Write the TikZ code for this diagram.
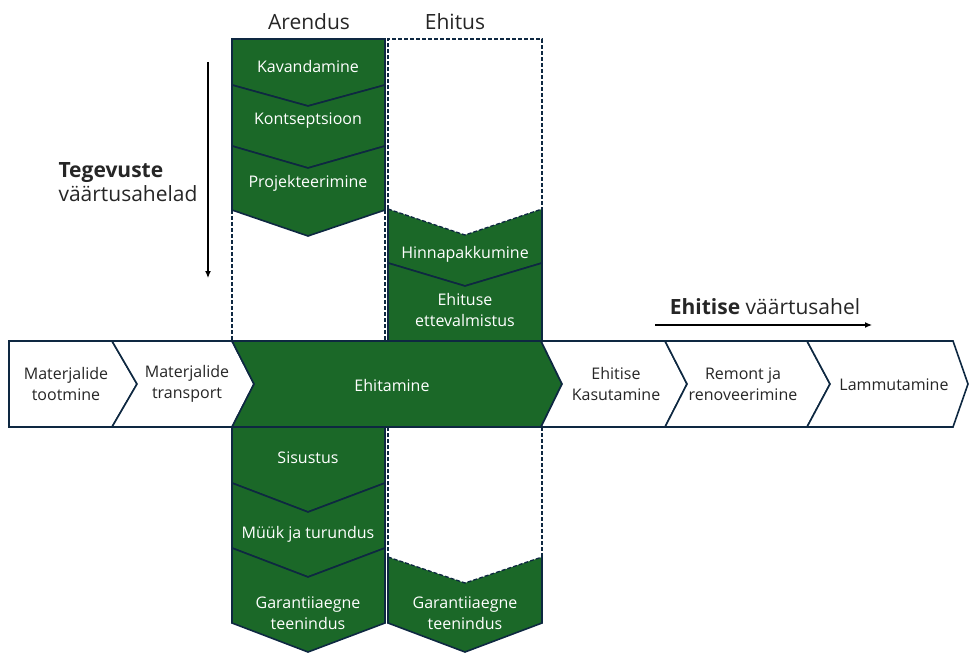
\documentclass[tikz,border=0pt]{standalone}
\usepackage{fontspec}
\setmainfont{Open Sans}
\usetikzlibrary{arrows.meta}
\definecolor{leaf}{RGB}{27,104,40}
\definecolor{navy}{RGB}{14,40,65}
\definecolor{ink}{RGB}{38,38,38}
\tikzset{
  box/.style = {draw = navy, line width = 1.6pt, line join = miter, fill = white},
  gbox/.style = {box, fill = leaf},
  edge/.style = {draw = navy, line width = 1.6pt, line join = miter},
  colframe/.style = {draw = navy, line width = 1.3pt, dash pattern = on 4pt off 2pt},
  wtext/.style = {text = white, align = center, font = \fontsize{16}{20.5}\selectfont},
  btext/.style = {text = ink, align = center, font = \fontsize{16}{20.5}\selectfont},
  big/.style = {text = ink, font = \fontsize{21}{24.5}\selectfont},
  flow/.style = {-{Latex[length = 7pt, width = 6pt]}, line width = 1.2pt, black}
}
\begin{document}
\begin{tikzpicture}[x = 1pt, y = -1pt]
	\useasboundingbox (0,0) rectangle (969,655);
	\clip (0,0) rectangle (969,655);
	\draw [colframe] (388,209) -- (388,39) -- (542,39) -- (542,209);
	\draw [colframe] (232,210) -- (232,341);
	\draw [colframe] (385,210) -- (385,341);
	\draw [colframe] (388,427) -- (388,557);
	\draw [colframe] (542,427) -- (542,557);
	\draw [gbox] (232,39) -- (385,39) -- (385,85) -- (308,106) -- (232,85) -- cycle;
	\draw [gbox] (232,85) -- (308,106) -- (385,85) -- (385,146) -- (308,168) -- (232,146) -- cycle;
	\draw [gbox] (232,146) -- (308,168) -- (385,146) -- (385,210) -- (308,236) -- (232,210) -- cycle;
	\fill [leaf] (388,209) -- (465,235) -- (542,209) -- (542,263) -- (465,286) -- (388,263) -- cycle;
	\draw [edge] (542,209) -- (542,263) -- (465,286) -- (388,263) -- (388,209);
	\draw [colframe] (388,209) -- (465,235) -- (542,209);
	\draw [gbox] (388,263) -- (465,286) -- (542,263) -- (542,341) -- (388,341) -- cycle;
	\draw [gbox] (232,427) -- (385,427) -- (385,483) -- (308,512) -- (232,483) -- cycle;
	\draw [gbox] (232,483) -- (308,512) -- (385,483) -- (385,548) -- (308,577) -- (232,548) -- cycle;
	\draw [gbox] (232,548) -- (308,577) -- (385,548) -- (385,623) -- (308,652) -- (232,623) -- cycle;
	\fill [leaf] (388,557) -- (465,583) -- (542,557) -- (542,623) -- (465,652) -- (388,623) -- cycle;
	\draw [edge] (542,557) -- (542,623) -- (465,652) -- (388,623) -- (388,557);
	\draw [colframe] (388,557) -- (465,583) -- (542,557);
	\draw [box] (9,341) -- (112,341) -- (137,384) -- (112,427) -- (9,427) -- cycle;
	\draw [box] (112,341) -- (232,341) -- (254,384) -- (232,427) -- (112,427) -- (137,384) -- cycle;
	\draw [gbox] (232,341) -- (541,341) -- (562,384) -- (541,427) -- (232,427) -- (254,384) -- cycle;
	\draw [box] (541,341) -- (665,341) -- (687,384) -- (665,427) -- (541,427) -- (562,384) -- cycle;
	\draw [box] (665,341) -- (807,341) -- (830,384) -- (807,427) -- (665,427) -- (687,384) -- cycle;
	\draw [box] (807,341) -- (953,341) -- (968,384) -- (953,427) -- (807,427) -- (830,384) -- cycle;
	\node [big] (arendus) at (309,22) {Arendus};
	\node [big] (ehitus) at (455,22) {Ehitus};
	\node [wtext] (kavand) at (308,67) {Kavandamine};
	\node [wtext] (kontsept) at (308,121) {Kontseptsioon};
	\node [wtext] (projekt) at (308,183) {Projekteerimine};
	\node [wtext] (hinna) at (465,254) {Hinnapakkumine};
	\node [wtext] (ettevalm) at (465,310) {Ehituse\\ettevalmistus};
	\node [btext] (mtoot) at (66,384) {Materjalide\\tootmine};
	\node [btext] (mtrans) at (187,384) {Materjalide\\transport};
	\node [wtext] (ehitamine) at (392,385) {Ehitamine};
	\node [btext] (kasut) at (616,384) {Ehitise\\Kasutamine};
	\node [btext] (remont) at (743,384) {Remont ja\\renoveerimine};
	\node [btext] (lammut) at (894,385) {Lammutamine};
	\node [wtext] (sisustus) at (308,458) {Sisustus};
	\node [wtext] (myyk) at (308,534) {Müük ja turundus};
	\node [wtext] (garA) at (308,613) {Garantiiaegne\\teenindus};
	\node [wtext] (garE) at (465,613) {Garantiiaegne\\teenindus};
	\node [big, anchor = west, align = left] (tegev) at (55,182) {\textbf{Tegevuste}\\väärtusahelad};
	\node [big] (vahel) at (765,307) {\textbf{Ehitise} väärtusahel};
	\coordinate (vtop) at (208,62);
	\coordinate (vbot) at (208,278);
	\coordinate (hleft) at (655,325);
	\coordinate (hright) at (872,325);
	\draw [flow] (vtop) -- (vbot);
	\draw [flow] (hleft) -- (hright);
\end{tikzpicture}
\end{document}
